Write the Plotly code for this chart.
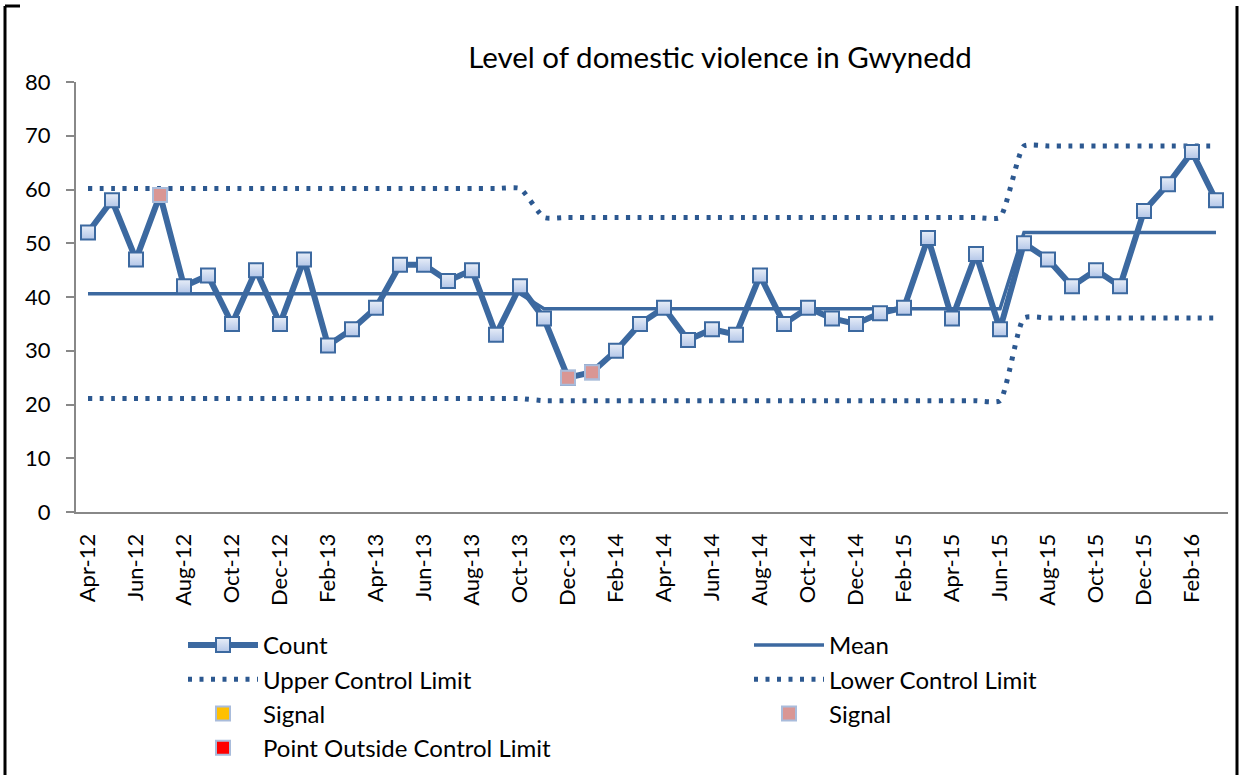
import plotly.graph_objects as go

months = ["Apr", "May", "Jun", "Jul", "Aug", "Sep", "Oct", "Nov", "Dec", "Jan", "Feb", "Mar"]
categories = []
for yr in range(12, 16):
    for i, m in enumerate(months):
        y = yr if i < 9 else yr + 1
        categories.append(f"{m}-{y}")

count = [52, 58, 47, 59, 42, 44, 35, 45, 35, 47, 31, 34,
         38, 46, 46, 43, 45, 33, 42, 36, 25, 26, 30, 35,
         38, 32, 34, 33, 44, 35, 38, 36, 35, 37, 38, 51,
         36, 48, 34, 50, 47, 42, 45, 42, 56, 61, 67, 58]

mean = [40.6] * 19 + [37.8] * 20 + [52.0] * 9
ucl = [60.2] * 19 + [54.8] * 20 + [68.1] * 9
lcl = [21.1] * 19 + [20.7] * 20 + [36.1] * 9

signal_pink = [None] * 48
for idx in (3, 20, 21):
    signal_pink[idx] = count[idx]
signal_orange = [None] * 48
outside = [None] * 48

tick_labels = categories[::2]

FONT = "Lato"
LINE = "#3C69A0"
DOT = "#2C5890"
W, H = 1239, 775
ML, MR, MT, MB = 76, 11, 82, 263
PW, PH = W - ML - MR, H - MT - MB


def px_x(x):
    return (x - ML) / PW


def px_y(y):
    return (H - MB - y) / PH


fig = go.Figure()

fig.add_trace(go.Scatter(x=categories, y=ucl, name="Upper Control Limit", mode="lines",
                         line=dict(color=DOT, width=5, dash="4px,7.5px", shape="spline", smoothing=0.5),
                         legend="legend", legendrank=2))
fig.add_trace(go.Scatter(x=categories, y=lcl, name="Lower Control Limit", mode="lines",
                         line=dict(color=DOT, width=5, dash="4px,7.5px", shape="spline", smoothing=0.5),
                         legend="legend2", legendrank=2))
fig.add_trace(go.Scatter(x=categories, y=mean, name="Mean", mode="lines",
                         line=dict(color=LINE, width=3.5), legend="legend2", legendrank=1))
fig.add_trace(go.Scatter(x=categories, y=count, name="Count", mode="lines+markers",
                         line=dict(color=LINE, width=6),
                         marker=dict(symbol="square", size=14, color="#E8EEF8",
                                     gradient=dict(type="vertical", color="#B3C6E8"),
                                     line=dict(color=LINE, width=2)),
                         legend="legend", legendrank=1))
fig.add_trace(go.Scatter(x=categories, y=signal_orange, name="Signal", mode="markers",
                         marker=dict(symbol="square", size=14, color="#FFC000",
                                     line=dict(color="#A9BCDB", width=2)),
                         legend="legend", legendrank=3))
fig.add_trace(go.Scatter(x=categories, y=signal_pink, name="Signal", mode="markers",
                         marker=dict(symbol="square", size=14, color="#D99694",
                                     line=dict(color="#A9BCDB", width=2)),
                         legend="legend2", legendrank=3))
fig.add_trace(go.Scatter(x=categories, y=outside, name="Point Outside Control Limit", mode="markers",
                         marker=dict(symbol="square", size=14, color="#FF0000",
                                     line=dict(color="#A9BCDB", width=2)),
                         legend="legend", legendrank=4))

legend_common = dict(orientation="v", yanchor="top", xanchor="left",
                     font=dict(family=FONT, size=24, color="black"),
                     itemwidth=70, bgcolor="rgba(0,0,0,0)", traceorder="normal",
                     itemclick=False, itemdoubleclick=False)

fig.update_layout(
    width=W, height=H,
    margin=dict(l=ML, r=MR, t=MT, b=MB, autoexpand=False),
    paper_bgcolor="white", plot_bgcolor="white",
    font=dict(family=FONT, color="black"),
    title=dict(text="Level of domestic violence in Gwynedd", x=720 / W, y=1 - 58 / H,
               xanchor="center", yanchor="middle",
               font=dict(family=FONT, size=29.5, color="black")),
    legend=dict(x=px_x(183), y=px_y(623), **legend_common),
    legend2=dict(x=px_x(749), y=px_y(623), **legend_common),
    xaxis=dict(type="category", range=[-0.5, 47.5], tickmode="array",
               tickvals=tick_labels, ticktext=tick_labels, tickangle=-90,
               showline=True, linecolor="#888888", linewidth=2,
               showgrid=False, zeroline=False, ticks="",
               tickfont=dict(family=FONT, size=22, color="black"),
               ticklabelstandoff=11),
    yaxis=dict(range=[0, 80], dtick=10, showline=True, linecolor="#888888", linewidth=2,
               showgrid=False, zeroline=False, ticks="outside", ticklen=8,
               tickcolor="#888888", tickwidth=2,
               tickfont=dict(family=FONT, size=22, color="black"),
               ticklabelstandoff=11),
    shapes=[
        dict(type="line", xref="paper", yref="paper", x0=px_x(5), x1=px_x(5),
             y0=px_y(6), y1=px_y(780), line=dict(color="black", width=3)),
        dict(type="line", xref="paper", yref="paper", x0=px_x(1237), x1=px_x(1237),
             y0=px_y(6), y1=px_y(780), line=dict(color="black", width=3)),
        dict(type="line", xref="paper", yref="paper", x0=px_x(5), x1=px_x(20),
             y0=px_y(6), y1=px_y(6), line=dict(color="black", width=3)),
    ],
)

fig.write_html("out.html", config={"displayModeBar": False},
               post_script="document.body.style.margin='0';document.body.style.overflow='hidden';")
